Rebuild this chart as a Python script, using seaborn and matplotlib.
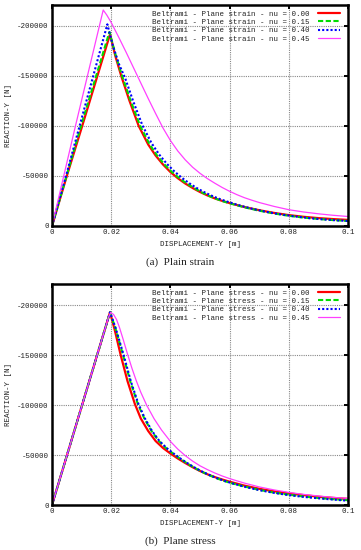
import matplotlib
matplotlib.use("Agg")
import matplotlib.pyplot as plt
import pandas as pd
import seaborn as sns

# ---- data (reaction is negative, y axis inverted) ----
nu_labels = ["0.00", "0.15", "0.40", "0.45"]

# (a) plane strain
strain_x_000 = [0, 0.0050, 0.0103, 0.0196, 0.0214, 0.0234, 0.0262, 0.0293, 0.0325, 0.0350, 0.0375,
                0.0400, 0.0425, 0.0450, 0.0475, 0.0500, 0.0525, 0.0550, 0.0575, 0.0600, 0.0650,
                0.0700, 0.0750, 0.0800, 0.0850, 0.0900, 0.0950, 0.1000]
strain_y_000 = [0, -50000, -101000, -191700, -170000, -150000, -125000, -100000, -81500, -70500, -61500,
                -54000, -47800, -42500, -38000, -34000, -30600, -27600, -25100, -22900, -19000,
                -15800, -13100, -10900, -9200, -7900, -6900, -6100]
strain_x_015 = [0, 0.0050, 0.0100, 0.0194, 0.0214, 0.0237, 0.0266, 0.0298, 0.0330, 0.0355, 0.0380,
                0.0405, 0.0430, 0.0455, 0.0480, 0.0505, 0.0530, 0.0555, 0.0580, 0.0610, 0.0650,
                0.0700, 0.0750, 0.0800, 0.0850, 0.0900, 0.0950, 0.1000]
strain_y_015 = [0, -51000, -102000, -194000, -172000, -150000, -125000, -100000, -81500, -70500, -61500,
                -54000, -47800, -42500, -38000, -33800, -30200, -27100, -24500, -21900, -18700,
                -15300, -12500, -10200, -8400, -7000, -5900, -5000]
strain_x_040 = [0, 0.0050, 0.0095, 0.0187, 0.0206, 0.0226, 0.0247, 0.0274, 0.0305, 0.0336, 0.0362,
                0.0387, 0.0412, 0.0437, 0.0462, 0.0487, 0.0512, 0.0537, 0.0562, 0.0590, 0.0625,
                0.0675, 0.0725, 0.0775, 0.0825, 0.0875, 0.0925, 0.0975, 0.1000]
strain_y_040 = [0, -53000, -102000, -201700, -180000, -162000, -148000, -125000, -101000, -83000, -71500,
                -62500, -55000, -48600, -43100, -38300, -34200, -30600, -27500, -24600, -21300,
                -17300, -14100, -11500, -9400, -7700, -6400, -5400, -5000]
strain_x_045 = [0, 0.0080, 0.0173, 0.0185, 0.0200, 0.0225, 0.0250, 0.0275, 0.0300, 0.0325, 0.0350,
                0.0375, 0.0400, 0.0425, 0.0450, 0.0475, 0.0500, 0.0525, 0.0550, 0.0575, 0.0600,
                0.0625, 0.0650, 0.0675, 0.0700, 0.0750, 0.0800, 0.0850, 0.0900, 0.0950, 0.1000]
strain_y_045 = [0, -101000, -216000, -211000, -203500, -189000, -174000, -158500, -143000, -127500, -112500,
                -98000, -85500, -75000, -66200, -58800, -52700, -47400, -42800, -38500, -34700,
                -31300, -28300, -25800, -23500, -19600, -16300, -14000, -12200, -10700, -9500]

# (b) plane stress
stress_x_000 = [0, 0.0196, 0.0212, 0.0232, 0.0255, 0.0280, 0.0300, 0.0325, 0.0350, 0.0375, 0.0400,
                0.0425, 0.0450, 0.0475, 0.0500, 0.0525, 0.0550, 0.0575, 0.0600, 0.0650, 0.0700,
                0.0750, 0.0800, 0.0850, 0.0900, 0.0950, 0.1000]
stress_y_000 = [0, -192700, -175000, -150000, -124000, -101000, -86500, -74000, -64000, -57000, -51500,
                -46500, -42000, -37800, -34000, -30700, -27900, -25500, -23300, -19400, -16200,
                -13700, -11700, -9900, -8300, -7100, -6100]
stress_x_015 = [0, 0.0196, 0.0215, 0.0240, 0.0265, 0.0290, 0.0312, 0.0336, 0.0360, 0.0385, 0.0410,
                0.0435, 0.0460, 0.0485, 0.0510, 0.0535, 0.0560, 0.0585, 0.0610, 0.0650, 0.0700,
                0.0750, 0.0800, 0.0850, 0.0900, 0.0950, 0.1000]
stress_y_015 = [0, -192700, -176000, -150000, -123000, -101000, -86500, -74000, -64300, -57000, -51200,
                -45800, -41000, -36600, -32700, -29300, -26300, -23700, -21500, -18500, -15100,
                -12400, -10300, -8500, -7000, -5800, -4800]
stress_x_040 = [0, 0.0196, 0.0215, 0.0242, 0.0267, 0.0292, 0.0314, 0.0338, 0.0362, 0.0387, 0.0412,
                0.0437, 0.0462, 0.0487, 0.0512, 0.0537, 0.0562, 0.0587, 0.0612, 0.0650, 0.0700,
                0.0750, 0.0800, 0.0850, 0.0900, 0.0950, 0.1000]
stress_y_040 = [0, -192700, -177000, -150000, -123000, -101000, -86500, -74000, -64300, -57000, -51200,
                -45800, -41000, -36600, -32700, -29300, -26300, -23700, -21400, -18300, -14900,
                -12100, -9900, -8100, -6700, -5400, -4300]
stress_x_045 = [0, 0.0190, 0.0198, 0.0208, 0.0218, 0.0228, 0.0240, 0.0255, 0.0270, 0.0285, 0.0300,
                0.0320, 0.0345, 0.0370, 0.0400, 0.0425, 0.0450, 0.0475, 0.0500, 0.0525, 0.0550,
                0.0575, 0.0600, 0.0650, 0.0700, 0.0750, 0.0800, 0.0850, 0.0900, 0.0950, 0.1000]
stress_y_045 = [0, -186800, -192500, -190500, -185500, -177500, -166000, -151000, -136800, -124000, -112700,
                -99700, -86200, -75000, -63600, -55900, -49400, -43900, -39200, -35400, -32000,
                -29000, -26400, -21900, -18100, -15100, -12600, -10600, -9000, -7600, -6600]

xticks = [0, 0.02, 0.04, 0.06, 0.08, 0.1]
xtick_labels = ["0", "0.02", "0.04", "0.06", "0.08", "0.1"]
yticks = [0, -50000, -100000, -150000, -200000]
ytick_labels = ["0", "-50000", "-100000", "-150000", "-200000"]

panels = [
    ("strain", "(a)  Plain strain",
     [(strain_x_000, strain_y_000), (strain_x_015, strain_y_015),
      (strain_x_040, strain_y_040), (strain_x_045, strain_y_045)]),
    ("stress", "(b)  Plane stress",
     [(stress_x_000, stress_y_000), (stress_x_015, stress_y_015),
      (stress_x_040, stress_y_040), (stress_x_045, stress_y_045)]),
]

colors = ["#ff0000", "#00dd00", "#0000ff", "#ff40ff"]
styles = ["-", (0, (2.5, 1.2)), (0, (1, 1)), "-"]
widths = [1.6, 1.5, 1.5, 0.9]

sns.set_theme(style="white")
plt.rcParams["font.family"] = ["Liberation Mono", "DejaVu Sans Mono"]
plt.rcParams["axes.unicode_minus"] = False
fs = 5.4

fig = plt.figure(figsize=(3.61, 5.5), dpi=100)
axes_rects = [
    [52 / 361, 1 - 226 / 550, 296 / 361, 221 / 550],
    [52 / 361, 1 - 505 / 550, 296 / 361, 221 / 550],
]
caption_y = [1 - 262 / 550, 1 - 541 / 550]

for (kind, caption, series), rect, cy in zip(panels, axes_rects, caption_y):
    ax = fig.add_axes(rect)
    frames = []
    for (xs, ys), nu in zip(series, nu_labels):
        frames.append(pd.DataFrame({
            "disp": xs, "reac": ys,
            "label": f"Beltrami - Plane {kind} - nu = {nu}",
        }))
    df = pd.concat(frames, ignore_index=True)
    labels = df["label"].unique()
    for lab, c, ls, lw in zip(labels, colors, styles, widths):
        sns.lineplot(data=df[df["label"] == lab], x="disp", y="reac", ax=ax,
                     color=c, linestyle=ls, linewidth=lw, label=lab,
                     sort=False, estimator=None)

    ax.set_xlim(0, 0.1)
    ax.set_ylim(0, -221000)
    ax.set_xticks(xticks)
    ax.set_xticklabels(xtick_labels)
    ax.set_yticks(yticks)
    ax.set_yticklabels(ytick_labels)
    ax.grid(True, color="#888888", linestyle=(0, (1, 1)), linewidth=0.8)
    ax.tick_params(direction="in", top=True, right=True, length=3, width=1.4,
                   color="black", labelsize=fs, labelcolor="#222222", pad=2.5)
    for sp in ax.spines.values():
        sp.set_linewidth(1.8)
        sp.set_color("black")
    ax.set_xlabel("DISPLACEMENT-Y [m]", fontsize=fs, labelpad=3.5, color="#222222")
    ax.set_ylabel("REACTION-Y [N]", fontsize=fs, labelpad=3.5, color="#222222")

    ax.legend(loc="upper right", bbox_to_anchor=(0.973, 0.975), frameon=False,
              markerfirst=False, fontsize=fs, handlelength=2.9, handletextpad=1.2,
              labelspacing=0.14, borderpad=0, borderaxespad=0,
              labelcolor="#222222")

    fig.text(0.5, cy, caption, ha="center", va="center", fontsize=8,
             family=["Liberation Serif", "DejaVu Serif"], color="#222222")

fig.savefig("out.png", dpi=100)
